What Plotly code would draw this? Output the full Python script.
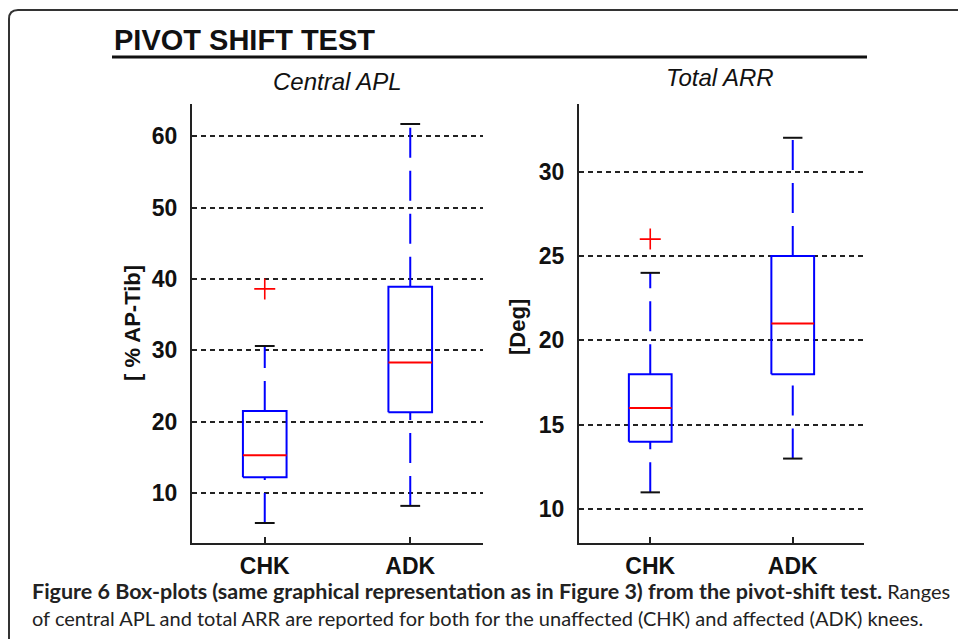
import plotly.graph_objects as go

# ---------------- data ----------------
categories = ["CHK", "ADK"]

apl_lower = [5.8, 8.2]
apl_q1 = [12.2, 21.3]
apl_median = [15.3, 28.3]
apl_q3 = [21.5, 38.9]
apl_upper = [30.6, 61.7]
apl_outlier_cat = ["CHK"]
apl_outlier_val = [38.6]

arr_lower = [11.0, 13.0]
arr_q1 = [14.0, 18.0]
arr_median = [16.0, 21.0]
arr_q3 = [18.0, 25.0]
arr_upper = [24.0, 32.0]
arr_outlier_cat = ["CHK"]
arr_outlier_val = [26.0]

apl_ticks = [10, 20, 30, 40, 50, 60]
arr_ticks = [10, 15, 20, 25, 30]

# ---------------- layout constants ----------------
W, H = 958, 639
BLUE = "#0000FF"
RED = "#FF0000"
BOX_HALF = 0.15
CAP_HALF = 0.068


def px_x(p):
    return p / W


def px_y(p):
    return 1 - p / H


fig = go.Figure()


def add_box_group(xa, ya, lower, q1, med, q3, upper, out_cat, out_val):
    for i, cat in enumerate(categories):
        c = i + 1
        wl = dict(color=BLUE, width=2, dash="30px,13px")
        # upper whisker (from box upward)
        fig.add_trace(go.Scatter(x=[c, c], y=[q3[i], upper[i]], mode="lines", line=wl,
                                 xaxis=xa, yaxis=ya, showlegend=False, hoverinfo="skip"))
        # lower whisker (from end upward to box)
        fig.add_trace(go.Scatter(x=[c, c], y=[lower[i], q1[i]], mode="lines", line=wl,
                                 xaxis=xa, yaxis=ya, showlegend=False, hoverinfo="skip"))
        # box
        fig.add_trace(go.Scatter(
            x=[c - BOX_HALF, c + BOX_HALF, c + BOX_HALF, c - BOX_HALF, c - BOX_HALF],
            y=[q1[i], q1[i], q3[i], q3[i], q1[i]], mode="lines",
            line=dict(color=BLUE, width=2), xaxis=xa, yaxis=ya,
            showlegend=False, hoverinfo="skip"))
        # median
        fig.add_trace(go.Scatter(x=[c - BOX_HALF, c + BOX_HALF], y=[med[i], med[i]], mode="lines",
                                 line=dict(color=RED, width=2), xaxis=xa, yaxis=ya,
                                 showlegend=False, hoverinfo="skip"))
        # caps
        for v in (lower[i], upper[i]):
            fig.add_trace(go.Scatter(x=[c - CAP_HALF, c + CAP_HALF], y=[v, v], mode="lines",
                                     line=dict(color="#111111", width=2), xaxis=xa, yaxis=ya,
                                     showlegend=False, hoverinfo="skip"))
    ox = [categories.index(cn) + 1 for cn in out_cat]
    fig.add_trace(go.Scatter(x=ox, y=out_val, mode="markers",
                             marker=dict(symbol="cross-thin", size=15,
                                         line=dict(width=1.6, color=RED)),
                             xaxis=xa, yaxis=ya, showlegend=False, hoverinfo="skip"))


add_box_group("x", "y", apl_lower, apl_q1, apl_median, apl_q3, apl_upper,
              apl_outlier_cat, apl_outlier_val)
add_box_group("x2", "y2", arr_lower, arr_q1, arr_median, arr_q3, arr_upper,
              arr_outlier_cat, arr_outlier_val)

ydom = [px_y(543), px_y(104)]
FONT_AX = "Liberation Sans, Arial"
xtickfont = dict(family=FONT_AX, size=23, color="#111111", weight="bold")
ytickfont = dict(family=FONT_AX, size=23, color="#111111", weight="bold")

common_x = dict(range=[0.5, 2.5], tickvals=[1, 2], ticktext=categories, showgrid=False,
                zeroline=False, showline=True, linecolor="#222222", linewidth=2,
                ticks="inside", ticklen=6, tickwidth=1.5, tickcolor="#222222",
                tickfont=xtickfont, ticklabelstandoff=1, fixedrange=True)
common_y = dict(showgrid=True, gridcolor="#222222", gridwidth=2, griddash="5px,4px",
                zeroline=False, showline=True, linecolor="#222222", linewidth=2,
                ticks="inside", ticklen=4, tickwidth=1.5, tickcolor="#222222",
                tickfont=ytickfont, ticklabelstandoff=8, fixedrange=True)

fig.update_layout(
    width=W, height=H, margin=dict(l=0, r=0, t=0, b=0),
    paper_bgcolor="white", plot_bgcolor="white",
    xaxis=dict(common_x, domain=[px_x(192), px_x(483)], anchor="y"),
    yaxis=dict(common_y, domain=ydom, range=[3.0, 64.5], tickvals=apl_ticks, anchor="x"),
    xaxis2=dict(common_x, domain=[px_x(579), px_x(864)], anchor="y2"),
    yaxis2=dict(common_y, domain=ydom, range=[8.0, 34.0], tickvals=arr_ticks, anchor="x2"),
)

# frame (rounded top-left corner)
r = 9
frame_path = (f"M {px_x(W + 5)},{px_y(10)} L {px_x(9 + r)},{px_y(10)} "
              f"Q {px_x(9)},{px_y(10)} {px_x(9)},{px_y(10 + r)} L {px_x(9)},{px_y(H + 5)}")
fig.add_shape(type="path", path=frame_path, xref="paper", yref="paper",
              line=dict(color="#333333", width=2))
# title underline
fig.add_shape(type="line", xref="paper", yref="paper", x0=px_x(112), x1=px_x(867),
              y0=px_y(57), y1=px_y(57), line=dict(color="#111111", width=3))

CAP_FONT = "Lato, Open Sans, sans-serif"
annos = [
    dict(text="<b>PIVOT SHIFT TEST</b>", x=px_x(112), y=px_y(40), xanchor="left", yanchor="middle",
         font=dict(family="Liberation Sans, Arial", size=29, color="#111111")),
    dict(text="<i>Central APL</i>", x=px_x(337), y=px_y(81), xanchor="center", yanchor="middle",
         font=dict(family="Liberation Sans, Arial", size=24, color="#111111")),
    dict(text="<i>Total ARR</i>", x=px_x(720), y=px_y(78), xanchor="center", yanchor="middle",
         font=dict(family="Liberation Sans, Arial", size=24, color="#111111")),
    dict(text="<b>[ % AP-Tib]</b>", x=px_x(132), y=px_y(323), xanchor="center", yanchor="middle",
         textangle=-90, font=dict(family="Liberation Sans, Arial", size=22, color="#111111")),
    dict(text="<b>[Deg]</b>", x=px_x(518), y=px_y(327), xanchor="center", yanchor="middle",
         textangle=-90, font=dict(family="Liberation Sans, Arial", size=22, color="#111111")),
    dict(text="<span style='font-size:21.5px'><b>Figure 6 Box-plots (same graphical representation as in Figure 3) from the pivot-shift test.</b></span> Ranges",
         x=px_x(30), y=px_y(591), xanchor="left", yanchor="middle",
         font=dict(family=CAP_FONT, size=20, color="#222222")),
    dict(text="of central APL and total ARR are reported for both for the unaffected (CHK) and affected (ADK) knees.",
         x=px_x(30), y=px_y(618), xanchor="left", yanchor="middle",
         font=dict(family=CAP_FONT, size=20, color="#222222")),
]
for a in annos:
    a.update(xref="paper", yref="paper", showarrow=False)
    fig.add_annotation(**a)

fig.write_html("out.html")
